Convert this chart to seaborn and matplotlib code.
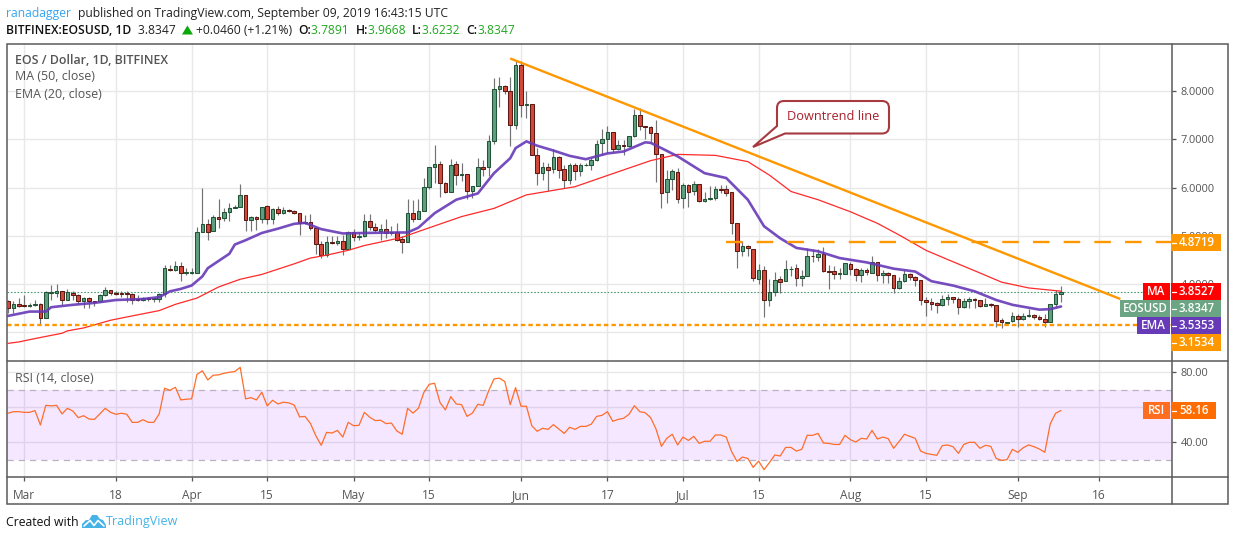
import numpy as np
import pandas as pd
import seaborn as sns
import matplotlib
matplotlib.use("Agg")
import matplotlib.pyplot as plt
import matplotlib.dates as mdates
from matplotlib.patches import Rectangle, Polygon, PathPatch
from matplotlib.path import Path

# ---------- data ----------
open_prices = [
 3.64,3.50,3.58,3.56,3.54,3.56,3.58,3.29,3.82,3.81,
 3.85,3.66,3.81,3.77,3.64,3.71,3.65,3.64,3.77,3.87,
 3.81,3.81,3.81,3.79,3.69,3.67,3.71,3.69,3.69,3.79,
 4.32,4.30,4.37,4.23,4.23,4.24,5.08,5.25,5.11,5.39,
 5.38,5.50,5.57,5.59,5.85,5.33,5.39,5.35,5.61,5.35,
 5.56,5.47,5.54,5.52,5.47,5.27,5.29,5.16,4.83,4.60,
 4.87,4.85,4.90,4.73,5.08,4.98,4.99,5.31,5.18,5.11,
 5.14,5.06,5.08,4.93,4.87,5.47,5.36,5.52,6.02,6.43,
 6.49,6.10,5.90,6.49,6.27,6.29,5.94,6.03,6.43,6.43,
 6.96,8.04,8.10,8.00,7.29,8.54,7.71,7.73,6.67,6.30,
 6.43,6.38,6.63,6.38,6.16,6.47,6.34,6.46,6.46,6.57,
 6.92,7.01,7.15,6.80,6.88,6.86,7.07,7.50,7.27,7.25,
 7.13,6.70,5.90,6.18,6.32,5.78,6.05,5.93,6.07,5.72,
 5.76,5.78,5.98,5.97,5.90,5.27,4.69,4.79,4.73,4.10,
 4.29,3.67,3.83,4.10,4.06,4.31,4.33,4.13,4.17,4.59,
 4.56,4.63,4.28,4.27,4.20,4.21,4.42,4.31,4.19,4.29,
 4.23,4.46,4.19,4.23,4.19,3.91,4.06,4.21,4.15,4.08,
 3.67,3.63,3.61,3.56,3.69,3.73,3.69,3.52,3.65,3.69,
 3.67,3.54,3.58,3.56,3.25,3.20,3.23,3.33,3.27,3.33,
 3.36,3.31,3.27,3.21,3.58,3.7891]
high_prices = [
 3.66,3.64,3.71,3.78,3.61,3.66,3.60,3.86,3.99,4.00,
 3.86,3.90,3.85,3.79,3.74,3.73,3.65,3.80,3.94,3.88,
 3.85,3.85,3.85,3.81,3.78,3.73,3.73,3.74,3.81,4.40,
 4.40,4.48,4.46,4.33,4.33,5.18,5.99,5.34,5.44,5.77,
 5.58,5.68,5.65,6.08,5.85,5.42,5.42,5.60,5.65,5.58,
 5.61,5.60,5.56,5.54,5.47,5.44,5.46,5.18,4.89,4.99,
 4.99,4.99,5.02,5.11,5.14,5.09,5.45,5.45,5.27,5.25,
 5.34,5.20,5.27,5.00,5.76,5.74,5.76,6.20,6.43,6.89,
 6.55,6.12,6.60,6.55,6.51,6.29,6.03,6.62,6.57,7.10,
 8.27,8.30,8.13,8.29,8.65,8.63,8.01,7.73,6.82,6.54,
 6.51,6.80,6.65,6.47,6.51,6.51,6.51,6.51,6.61,6.99,
 7.21,7.28,7.15,6.99,6.99,7.07,7.63,7.65,7.27,7.27,
 7.41,6.70,6.37,6.38,6.41,6.10,6.07,6.13,6.07,5.92,
 6.03,6.03,6.06,6.06,5.90,5.27,4.89,4.82,4.73,4.42,
 4.37,4.11,4.25,4.16,4.49,4.37,4.42,4.29,4.75,4.72,
 4.72,4.77,4.40,4.37,4.33,4.44,4.45,4.33,4.33,4.33,
 4.59,4.46,4.29,4.25,4.19,4.15,4.31,4.23,4.16,4.08,
 3.74,3.71,3.62,3.78,3.80,3.73,3.73,3.71,3.74,3.71,
 3.67,3.71,3.60,3.56,3.29,3.22,3.43,3.38,3.40,3.48,
 3.38,3.35,3.38,3.58,3.87,3.9668]
low_prices = [
 3.40,3.40,3.52,3.52,3.52,3.54,3.16,3.29,3.66,3.74,
 3.56,3.66,3.67,3.59,3.50,3.50,3.54,3.62,3.76,3.78,
 3.77,3.74,3.63,3.59,3.64,3.64,3.64,3.63,3.63,3.74,
 4.28,4.28,4.07,4.19,4.21,4.24,5.08,4.91,5.11,5.16,
 5.30,5.30,5.57,5.59,5.11,5.11,5.13,5.27,5.25,5.25,
 5.44,5.45,5.50,5.45,5.02,5.25,5.13,4.63,4.55,4.56,
 4.84,4.82,4.61,4.73,4.89,4.92,4.98,5.13,5.07,4.91,
 4.95,5.02,4.89,4.65,4.87,5.28,5.35,5.52,5.98,6.10,
 5.81,5.88,5.90,6.05,6.14,5.76,5.79,6.03,6.24,6.24,
 6.91,7.67,7.95,6.87,7.21,7.47,7.45,6.67,6.05,6.16,
 5.94,6.30,6.20,6.00,6.07,6.15,6.25,6.44,6.37,6.56,
 6.67,6.72,6.74,6.79,6.68,6.85,7.06,7.20,7.00,6.92,
 6.11,5.57,5.68,5.96,5.68,5.58,5.60,5.84,5.70,5.70,
 5.75,5.75,5.89,5.82,5.03,4.33,4.58,4.58,4.06,4.00,
 3.31,3.54,3.76,3.81,4.06,4.16,3.95,3.97,4.17,4.45,
 4.47,4.25,3.90,4.11,4.11,4.21,4.19,4.06,4.04,4.19,
 4.23,4.06,4.02,4.02,3.81,3.90,4.05,4.09,3.95,3.57,
 3.33,3.47,3.40,3.55,3.57,3.60,3.38,3.50,3.50,3.50,
 3.52,3.54,3.52,3.12,3.08,3.17,3.22,3.12,3.26,3.31,
 3.28,3.26,3.12,3.21,3.52,3.6232]
close_prices = [
 3.50,3.58,3.55,3.54,3.56,3.58,3.29,3.83,3.83,3.85,
 3.66,3.83,3.77,3.64,3.71,3.64,3.63,3.77,3.87,3.81,
 3.79,3.79,3.79,3.68,3.67,3.71,3.69,3.71,3.79,4.33,
 4.30,4.37,4.23,4.25,4.25,5.08,5.25,5.09,5.39,5.36,
 5.50,5.58,5.59,5.85,5.33,5.39,5.35,5.60,5.35,5.56,
 5.47,5.54,5.52,5.47,5.26,5.29,5.16,4.83,4.60,4.87,
 4.85,4.90,4.73,5.08,4.98,5.00,5.31,5.18,5.12,5.14,
 5.06,5.08,4.91,4.87,5.47,5.36,5.51,6.02,6.43,6.49,
 6.10,5.90,6.47,6.27,6.29,5.94,6.03,6.43,6.39,6.97,
 8.04,8.10,8.00,7.29,8.54,7.71,7.73,6.67,6.30,6.43,
 6.36,6.63,6.36,6.16,6.47,6.34,6.47,6.47,6.57,6.90,
 7.01,7.15,6.80,6.88,6.86,7.07,7.50,7.27,7.25,7.13,
 6.70,5.89,6.18,6.34,5.76,6.05,5.91,6.07,5.72,5.76,
 5.78,5.97,5.96,5.89,5.27,4.69,4.79,4.74,4.13,4.29,
 3.67,3.83,4.08,4.04,4.31,4.32,4.13,4.17,4.58,4.58,
 4.63,4.27,4.26,4.21,4.22,4.44,4.31,4.19,4.29,4.25,
 4.46,4.19,4.23,4.19,3.91,4.06,4.21,4.15,4.08,3.67,
 3.63,3.58,3.56,3.69,3.73,3.69,3.52,3.65,3.69,3.67,
 3.54,3.58,3.56,3.24,3.21,3.22,3.33,3.27,3.33,3.36,
 3.31,3.27,3.21,3.58,3.79,3.8347]

ema_days = [0,4,7,8,12,16,20,25,28,30,32,34,36,37,39,41,42,44,47,50,53,55,58,62,66,72,74,76,79,83,87,90,93,94,96,98,
            101,104,107,111,114,118,119,121,124,129,133,137,140,143,146,150,154,159,164,168,171,175,
            179,183,186,191,193,195]
ema_values = [3.34,3.43,3.43,3.52,3.57,3.61,3.67,3.69,3.73,3.85,3.90,3.97,4.16,4.33,4.48,4.63,4.82,4.91,5.06,5.15,5.25,5.27,
              5.14,5.05,5.06,5.07,5.07,5.17,5.47,5.75,5.88,6.30,6.61,6.82,6.96,6.87,6.77,6.66,6.59,6.71,6.75,6.94,6.93,
              6.82,6.65,6.30,6.20,5.75,5.20,4.95,4.75,4.68,4.54,4.45,4.32,4.26,4.06,3.97,3.85,3.67,3.57,3.47,3.48,3.5353]
ma_days = [0,2,5,10,11,14,19,23,28,31,35,39,43,47,50,53,56,59,63,66,71,73,76,84,90,96,105,113,119,124,131,137,141,145,150,
           156,161,165,170,174,180,184,189,195]
ma_values = [2.77,2.80,2.87,2.98,3.03,3.09,3.25,3.34,3.45,3.58,3.71,3.94,4.10,4.20,4.31,4.42,4.54,4.60,4.70,4.80,4.92,4.97,
             5.09,5.40,5.57,5.85,6.02,6.33,6.56,6.69,6.67,6.54,6.26,5.92,5.75,5.50,5.26,5.02,4.70,4.51,4.23,
             4.04,3.92,3.8527]
rsi_values = [
 56.6,57.5,57.5,57.1,57.1,58.1,49.9,61.1,60.8,61.1,56.2,59.4,57.9,54.1,55.2,53.3,53.1,56.2,59.4,57.1,
 56.0,56.6,56.0,51.4,51.4,52.9,51.4,51.4,56.2,70.9,69.7,71.4,64.2,64.6,64.8,78.8,80.8,75.6,78.3,78.5,
 79.4,80.0,80.4,82.8,64.8,65.5,64.2,68.6,60.8,64.0,61.9,62.9,62.5,61.3,54.5,54.8,50.8,43.8,38.3,45.7,
 45.3,46.8,43.0,51.4,49.5,49.7,57.1,54.3,52.4,52.6,50.7,51.0,46.5,44.6,59.4,56.7,59.4,68.4,73.1,73.7,
 62.7,58.5,66.1,61.9,61.5,54.8,56.7,61.7,61.1,69.3,76.2,76.6,74.7,61.5,71.2,60.6,60.6,49.5,46.3,48.0,
 47.4,50.1,47.6,45.1,48.6,47.4,49.1,49.1,50.3,54.8,55.4,57.5,52.0,53.1,
 53.7,56.0,60.9,57.5,56.9,54.1,47.6,37.7,42.3,44.6,38.5,43.0,41.1,43.4,39.4,40.6,40.6,44.2,44.2,43.0,
 34.7,29.1,31.6,30.8,25.7,29.3,24.4,28.4,32.8,32.2,37.1,37.1,35.0,36.0,44.0,44.0,45.1,39.6,39.4,38.8,
 38.8,44.0,41.5,40.2,42.3,41.9,46.8,41.9,43.0,42.1,36.6,40.4,44.6,43.4,42.3,35.0,33.7,33.1,32.6,38.1,
 38.5,37.5,33.7,38.8,40.0,40.0,36.6,38.3,37.7,30.8,29.7,30.1,36.0,34.3,36.9,38.5,37.5,36.2,34.3,50.5,
 56.6,58.16]

trend_days = [93, 206]
trend_values = [8.68, 3.69]
resistance = 4.8719
resistance_start_day = 133
support = 3.1534
last_price = 3.8347
price_ticks = [3, 4, 5, 6, 7, 8]
rsi_ticks = [40, 60, 80]
rsi_band = [30, 70]
x_tick_dates = ["2019-03-01","2019-03-18","2019-04-01","2019-04-15","2019-05-01","2019-05-15","2019-06-01",
                "2019-06-17","2019-07-01","2019-07-15","2019-08-01","2019-08-15","2019-09-01","2019-09-16"]
x_tick_labels = ["Mar","18","Apr","15","May","15","Jun","17","Jul","15","Aug","15","Sep","16"]

# ---------- styles ----------
W, H = 1234, 540
sns.set_theme(style="white")
FONT = ["Open Sans", "DejaVu Sans"]
plt.rcParams["font.family"] = FONT
UP, DOWN, UP_E, DOWN_E, WICK = "#5f9f7f", "#d2483a", "#225437", "#5b1a13", "#737375"
ORANGE, PURPLE, TEXT = "#ff9800", "#673ab7", "#555555"
GRID = "#e8e8e8"

fig = plt.figure(figsize=(W/100, H/100), dpi=100, facecolor="white")
def pane(l, t, r, b):
    return fig.add_axes([l/W, (H-b)/H, (r-l)/W, (b-t)/H])
ax = pane(6.5, 43.5, 1171.5, 360.5)
rx = pane(6.5, 360.5, 1171.5, 476.5)
ov = fig.add_axes([0, 0, 1, 1], zorder=10)
ov.set_xlim(0, W); ov.set_ylim(H, 0); ov.axis("off"); ov.patch.set_alpha(0)

dates = pd.date_range("2019-02-26", periods=len(close_prices))
o, h, l, c = map(np.array, (open_prices, high_prices, low_prices, close_prices))
up = c >= o
x0 = mdates.date2num(dates[0])

# candles
ax.vlines(dates, l, h, color=WICK, lw=0.85, zorder=3)
ax.bar(dates[up], (c-o)[up], bottom=o[up], width=0.68, color=UP, edgecolor=UP_E, linewidth=0.75, zorder=4)
ax.bar(dates[~up], (o-c)[~up], bottom=c[~up], width=0.68, color=DOWN, edgecolor=DOWN_E, linewidth=0.75, zorder=4)

# lines through seaborn
sns.lineplot(x=dates[ma_days], y=ma_values, ax=ax, color="#ff2a2a", lw=0.9, errorbar=None, zorder=5)
sns.lineplot(x=dates[ema_days], y=ema_values, ax=ax, color=PURPLE, lw=1.9, alpha=0.9, errorbar=None, zorder=5)
trend_x = [x0 + d for d in trend_days]
ax.plot(trend_x, trend_values, color=ORANGE, lw=1.7, zorder=6, solid_capstyle="butt")

ax.axhline(last_price, color="#4f9a74", lw=0.8, ls=(0, (1.5, 1.5)), zorder=2)
ax.axhline(support, color=ORANGE, lw=1.7, ls=(0, (1.9, 1.3)), zorder=6)
ax.plot([x0 + resistance_start_day, x0 + 216], [resistance]*2, color=ORANGE, lw=1.7,
        ls=(0, (7.0, 6.0)), zorder=6)

sns.lineplot(x=dates, y=rsi_values, ax=rx, color="#ff6d2a", lw=0.9, errorbar=None, zorder=5)
rx.axhspan(rsi_band[0], rsi_band[1], color="#9915ff", alpha=0.1, lw=0, zorder=2)
for v in rsi_band:
    rx.axhline(v, color="#b9b2c2", lw=0.9, ls=(0, (5, 4)), zorder=3)

# axes
xlim = (x0 - 0.278, x0 + 215.46)
ticks = pd.to_datetime(x_tick_dates)
for a in (ax, rx):
    a.set_xlim(*xlim)
    a.set_xticks(ticks)
    a.set_axisbelow(True)
    a.grid(True, color=GRID, lw=1.0)
    a.set_xlabel(""); a.set_ylabel("")
    a.yaxis.tick_right()
    for s in a.spines.values():
        s.set_visible(False)
ax.set_ylim(2.415, 8.99)
ax.set_yticks(price_ticks)
ax.set_yticklabels(["" if v == 3 else f"{v:.4f}" for v in price_ticks])
ax.tick_params(axis="x", length=0, labelbottom=False)
ax.tick_params(axis="y", length=3, width=0.9, color="#555555", pad=3.5, labelsize=7.9, labelcolor=TEXT, right=True)
rx.set_ylim(20.5, 86.7)
rx.set_yticks(rsi_ticks)
rx.set_yticklabels(["40.00", "", "80.00"])
rx.set_xticklabels(x_tick_labels)
rx.tick_params(axis="x", length=3, width=0.9, color="#555555", pad=6, labelsize=8.6, labelcolor=TEXT, bottom=True)
rx.tick_params(axis="y", length=3, width=0.9, color="#555555", pad=3.5, labelsize=7.9, labelcolor=TEXT, right=True)

# frame
FRAME = "#5a5a5a"
ov.add_patch(Rectangle((6.5, 43.5), 1221, 460, fill=False, ec=FRAME, lw=1.1))
ov.plot([1171.5, 1171.5], [43.5, 503.5], color=FRAME, lw=1.1)
ov.plot([6.5, 1227.5], [360.5, 360.5], color=FRAME, lw=1.1)
ov.plot([6.5, 1227.5], [476.5, 476.5], color=FRAME, lw=1.1)

# right-hand boxes
def box(xl, xr, yt, yb, color, txt, cx=None, size=8.3):
    ov.add_patch(Rectangle((xl, yt), xr-xl, yb-yt, color=color, lw=0, zorder=20))
    ov.text((xl+xr)/2 if cx is None else cx, (yt+yb)/2-0.3, txt, color="white", ha="center", va="center",
            fontsize=size, fontweight="semibold", zorder=21)
def price_box(yt, yb, color, txt, right=1221, cx=1197):
    box(1171, right, yt, yb, color, txt, cx=cx)
    ov.plot([1172, 1176], [(yt+yb)/2]*2, color="white", lw=0.9, zorder=22)
price_box(234, 251, ORANGE, "4.8719")
box(1143, 1170, 283, 300, "#ff0000", "MA")
price_box(283, 300, "#ff0000", "3.8527")
box(1120, 1170, 300, 317, "#6ba583", "EOSUSD")
price_box(300, 317, "#6ba583", "3.8347")
box(1137, 1170, 317, 334, PURPLE, "EMA")
price_box(317, 334, PURPLE, "3.5353")
price_box(334, 351, ORANGE, "3.1534")
box(1143, 1170, 402, 419, "#ff6d1f", "RSI")
price_box(402, 419, "#ff6d00", "58.16", right=1216, cx=1194)

# legends
ov.text(15, 60, "EOS / Dollar, 1D, BITFINEX", color=TEXT, fontsize=8.9, fontweight="semibold", va="center")
ov.text(15, 77, "MA (50, close)", color=TEXT, fontsize=8.9, va="center")
ov.text(15, 94, "EMA (20, close)", color=TEXT, fontsize=8.9, va="center")
ov.text(15, 378, "RSI (14, close)", color=TEXT, fontsize=8.9, va="center")

# header flowing text
fig.canvas.draw()
rend = fig.canvas.get_renderer()
def flow(x, y, parts, size):
    for txt, col, bold in parts:
        if txt == "^":
            ov.add_patch(Polygon([(x, y+4.5), (x+5.5, y-4.5), (x+11, y+4.5)], color="#0aa80a", lw=0))
            x += 14
            continue
        t = ov.text(x, y, txt, color=col, fontsize=size, va="center",
                    fontweight="semibold" if bold else "normal")
        bb = t.get_window_extent(rend)
        x += bb.width + 3.4 * (txt.endswith(" ") )
    return x
flow(6, 13, [("ranadagger ", "#37a6ef", False),
             ("published on TradingView.com, September 09, 2019 16:43:15 UTC", "#222222", False)], 8.75)
G = "#1fa81f"
flow(6, 30, [("BITFINEX:EOSUSD, 1D ", "#111111", True), ("3.8347 ", "#222222", False), ("^", "", False),
             ("+0.0460 (+1.21%) ", "#222222", False),
             ("O:", "#111111", True), ("3.7891 ", G, False), ("H:", "#111111", True), ("3.9668 ", G, False),
             ("L:", "#111111", True), ("3.6232 ", G, False), ("C:", "#111111", True), ("3.8347", G, False)], 8.75)

# callout
rl, rr, rt, rb, rr_c = 777, 889, 101, 133.5, 7
verts = [(rl+rr_c, rt), (rr-rr_c, rt), (rr, rt), (rr, rt+rr_c), (rr, rb-rr_c), (rr, rb), (rr-rr_c, rb),
         (785, rb), (753, 147), (rl, 126), (rl, rt+rr_c), (rl, rt), (rl+rr_c, rt), (rl+rr_c, rt)]
codes = [Path.MOVETO, Path.LINETO, Path.CURVE3, Path.CURVE3, Path.LINETO, Path.CURVE3, Path.CURVE3,
         Path.LINETO, Path.LINETO, Path.LINETO, Path.LINETO, Path.CURVE3, Path.CURVE3, Path.CLOSEPOLY]
ov.add_patch(PathPatch(Path(verts, codes), fc="white", ec="#a63a40", lw=1.5, zorder=8))
ov.text(833, 117, "Downtrend line", color="#a8202a", fontsize=9.2, ha="center", va="center", zorder=9)

# footer
ov.text(6, 522, "Created with", color="#111111", fontsize=8.8, va="center")
ov.add_patch(Polygon([(82, 528), (82, 524), (86, 520), (89, 520), (92, 515), (97, 515), (100, 519), (103, 520),
                      (106, 525), (106, 528)], color="#45b3e7", lw=0))
ov.plot([84, 90, 94, 98, 104], [526, 520.5, 525.5, 520.5, 526], color="white", lw=1.2)
ov.text(106, 522, "TradingView", color="#45b3e7", fontsize=9.0, va="center")

fig.savefig("out.png", dpi=100, facecolor="white")
